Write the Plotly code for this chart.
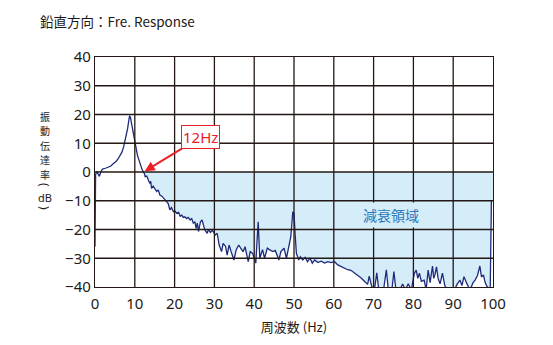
import plotly.graph_objects as go

# ---------------- data ----------------
freq_hz = [0, 0.15, 0.4, 0.8, 1.1, 1.5, 1.9, 2.6, 3.3, 3.9, 4.5, 5.0, 5.4, 5.9, 6.4, 6.8, 7.2, 7.5, 7.9, 8.2,
           8.5, 8.7, 8.9, 9.2, 9.5, 9.8, 10.1, 10.4, 10.7, 11.1, 11.5, 11.8, 12.1, 12.4, 12.6, 13.0, 13.4, 13.8,
           14.0, 14.2, 14.6, 15.0, 15.5, 15.9, 16.3, 16.8, 17.2, 17.6, 18.0, 18.4, 18.8, 19.2, 19.7, 20.1, 20.5,
           21.0, 21.4, 21.8, 22.2, 22.6, 23.0, 23.4, 23.9, 24.3, 24.7, 25.1, 25.4, 25.7, 26.0, 26.5, 26.9, 27.3,
           27.6, 28.2, 28.5, 29.0, 29.5, 30.2, 30.7, 31.2, 31.8, 32.2, 32.8, 33.2, 33.7, 34.2, 34.9, 35.5, 36.1,
           36.6, 37.2, 37.7, 38.5, 39.0, 39.6, 40.4, 41.0, 41.4, 42.1, 42.6, 43.3, 43.8, 44.7, 45.3, 46.2, 46.7,
           47.5, 48.1, 48.6, 49.2, 49.7, 50.0, 50.3, 50.6, 51.2, 51.6, 52.2, 52.8, 53.4, 54.0, 54.6, 55.2, 56.0,
           56.8, 57.7, 58.5, 59.3, 60.2, 61.0, 61.8, 62.7, 63.5, 64.3, 65.2, 66.0, 66.8, 67.7, 68.5, 68.9, 69.5,
           70.2, 70.8, 71.3, 72.5, 73.2, 73.7, 74.6, 75.1, 75.6, 76.5, 77.3, 78.0, 78.7, 79.5, 80.2, 80.7, 81.1,
           81.5, 82.0, 82.7, 83.2, 83.7, 84.2, 84.8, 85.1, 85.4, 85.8, 86.2, 86.7, 87.3, 87.9, 88.6, 89.5, 90.3,
           91.0, 91.7, 92.2, 92.7, 93.5, 94.2, 95.0, 95.5, 96.1, 96.7, 97.1, 97.6, 98.0, 98.4, 99.3, 99.6]
response_db = [-26, -1, 0.2, -0.8, -1.5, 0.2, 1.0, 1.3, 1.6, 2.0, 2.8, 3.3, 3.8, 4.8, 5.8, 7.0, 8.8, 10.5, 13.0, 15.2,
               18.0, 19.6, 19.0, 17.0, 14.8, 12.0, 9.8, 7.8, 5.6, 3.8, 1.8, 1.0, 0.1, -0.5, -1.6, -1.4, -2.8, -4.0,
               -3.2, -5.7, -4.9, -5.6, -6.8, -6.2, -8.0, -8.4, -9.1, -9.6, -10.3, -11.0, -13.2, -12.4, -13.8, -13.6, -14.3,
               -14.0, -15.4, -15.0, -15.8, -15.6, -16.2, -15.8, -16.7, -16.2, -17.8, -17.3, -19.6, -17.8, -20.7, -17.3, -16.7, -18.5,
               -20.2, -21.3, -20.0, -21.0, -20.2, -21.9, -21.3, -25.4, -27.7, -24.8, -25.9, -28.9, -25.4, -27.7, -30.6, -27.0, -25.4,
               -26.5, -27.7, -26.0, -31.2, -27.7, -28.3, -31.7, -17.3, -30.0, -27.0, -30.0, -26.5, -27.0, -27.7, -27.3, -30.6, -27.7,
               -26.5, -30.0, -27.0, -22.5, -13.8, -14.5, -22.0, -28.3, -30.6, -29.5, -30.6, -29.7, -31.2, -30.0, -31.7, -30.6, -31.5,
               -31.0, -31.7, -31.2, -31.5, -31.2, -32.3, -32.9, -33.4, -34.0, -34.2, -35.1, -35.7, -36.8, -38.0, -39.1, -36.2, -39.7,
               -41, -35.1, -41, -41, -34.0, -41, -41, -34.6, -41, -41, -39.0, -41, -38.9, -41, -35.5, -34.1, -37.0,
               -35.2, -38.0, -37.6, -41, -34.1, -38.5, -32.7, -37.0, -35.8, -33.0, -37.0, -38.9, -35.2, -39.6, -41, -41, -41,
               -39.0, -37.6, -39.5, -36.4, -39.0, -41, -38.5, -37.6, -36.0, -32.7, -36.5, -35.8, -38.3, -39.6, -41, -9.7]

x_ticks = [0, 10, 20, 30, 40, 50, 60, 70, 80, 90, 100]
y_ticks = [40, 30, 20, 10, 0, -10, -20, -30, -40]
x_range = [0, 100]
y_range = [-40, 40]
fill_start_hz = 12
marker_label = "12Hz"
region_label = "減衰領域"
y_title_parts = ["振", "動", "伝", "達", "率", "(", "dB", ")"]

# ---------------- figure ----------------
W, H = 553, 345
ML, MR, MT, MB = 95, 60, 57, 58
CJK = "Noto Sans CJK JP, Noto Sans, sans-serif"
NUM = "Noto Sans, Open Sans, sans-serif"
line_color = "#1f2a7a"
fill_color = "#d5ecf9"
ink = "#231815"


def px_to_paper(px, py):
    return (px - ML) / (W - ML - MR), 1 - (py - MT) / (H - MT - MB)


fx = [f for f in freq_hz if f >= fill_start_hz]
fy = [max(min(v, 0), y_range[0]) for f, v in zip(freq_hz, response_db) if f >= fill_start_hz]
poly_x = fx + [x_range[1], x_range[1], fill_start_hz]
poly_y = fy + [fy[-1], 0, 0]

fig = go.Figure()
fig.add_trace(go.Scatter(x=poly_x, y=poly_y, mode="lines", fill="toself",
                         fillcolor=fill_color, line=dict(width=0), hoverinfo="skip",
                         showlegend=False))
fig.add_trace(go.Scatter(x=freq_hz, y=response_db, mode="lines",
                         line=dict(color=line_color, width=1.3), showlegend=False))

for xv in x_ticks[1:-1]:
    fig.add_shape(type="line", xref="x", yref="y", x0=xv, x1=xv, y0=y_range[0], y1=y_range[1],
                  line=dict(color=ink, width=1.3), layer="above")
for yv in y_ticks[1:-1]:
    fig.add_shape(type="line", xref="x", yref="y", x0=x_range[0], x1=x_range[1], y0=yv, y1=yv,
                  line=dict(color=ink, width=1.3), layer="above")

fig.update_xaxes(range=x_range, tickvals=x_ticks, showgrid=False, zeroline=False,
                 showline=True, mirror=True, linecolor=ink, linewidth=1.3,
                 ticks="", ticklabelstandoff=3, tickfont=dict(family=NUM, size=15, color=ink),
                 title=dict(text="周波数 (Hz)", font=dict(family=CJK, size=13, color=ink),
                            standoff=10))
fig.update_yaxes(range=y_range, tickvals=y_ticks, showgrid=False, zeroline=False,
                 showline=True, mirror=True, linecolor=ink, linewidth=1.3,
                 ticks="", tickfont=dict(family=NUM, size=15, color=ink))

fig.add_annotation(x=12.5, y=0.3, xref="x", yref="y", text=marker_label,
                   showarrow=True, arrowhead=2, arrowsize=1, arrowwidth=2, arrowcolor="#e8202a",
                   ax=56, ay=-34, font=dict(family=NUM, size=15, color="#e8202a"),
                   bgcolor="white", bordercolor="#e8202a", borderwidth=1, borderpad=1)
fig.add_annotation(x=74.4, y=-15, xref="x", yref="y", text=region_label, showarrow=False,
                   font=dict(family=CJK, size=14, color="#2a78bf"), bgcolor=fill_color, borderpad=2)

tx, ty = px_to_paper(38, 21)
fig.add_annotation(x=tx, y=ty, xref="paper", yref="paper", text="鉛直方向：Fre. Response",
                   showarrow=False, xanchor="left", yanchor="middle",
                   font=dict(family=CJK, size=13.5, color=ink))

# vertical (stacked) y-axis title
y_title_px = [116, 130.6, 145.2, 159.8, 174.4, 185, 197, 208]
for part, py in zip(y_title_parts, y_title_px):
    ax_, ay_ = px_to_paper(45, py)
    if part in ("(", ")"):
        fnt, size, angle = NUM, 12, 90
    elif part.isascii():
        fnt, size, angle = NUM, 11, 0
    else:
        fnt, size, angle = CJK, 10, 0
    fig.add_annotation(x=ax_, y=ay_, xref="paper", yref="paper", text=part,
                       showarrow=False, xanchor="center", yanchor="middle",
                       textangle=angle, borderpad=0,
                       font=dict(family=fnt, size=size, color=ink))

fig.update_layout(width=W, height=H, margin=dict(l=ML, r=MR, t=MT, b=MB),
                  paper_bgcolor="white", plot_bgcolor="white")

fig.write_html("out.html")
